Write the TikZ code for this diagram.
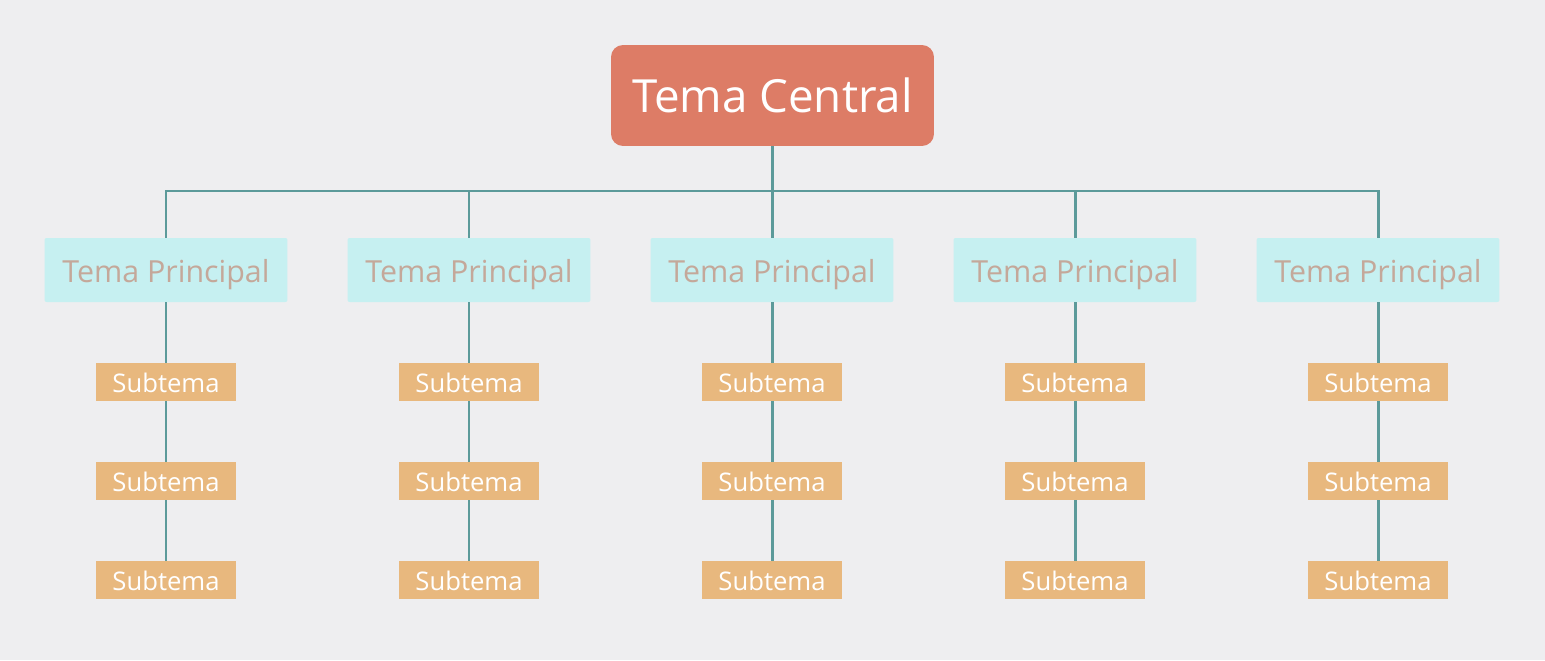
\documentclass[tikz,border=0pt]{standalone}
\usepackage{fontspec}
\setmainfont{Open Sans}
\usepackage{tikz}
\usetikzlibrary{calc}
\definecolor{bgcol}{HTML}{EEEEF0}
\definecolor{centralcol}{HTML}{DD7C66}
\definecolor{principalcol}{HTML}{C6F0F1}
\definecolor{principaltext}{HTML}{C4A89A}
\definecolor{subcol}{HTML}{E8B87E}
\definecolor{linkcol}{HTML}{5C9A9A}
\tikzset{
    central/.style={fill=centralcol,text=white,rounded corners=0.24cm,inner sep=0pt,
        minimum width=6.46cm,minimum height=2.02cm,font=\fontsize{26}{30}\selectfont},
    principal/.style={fill=principalcol,text=principaltext,rounded corners=0.04cm,inner sep=0pt,
        minimum width=4.86cm,minimum height=1.28cm,text height=18.5pt,text depth=4pt,
        font=\fontsize{17.3}{20}\selectfont},
    subtema/.style={fill=subcol,text=white,inner sep=0pt,
        minimum width=2.8cm,minimum height=0.76cm,text height=12pt,text depth=0pt,
        font=\fontsize{14.6}{17}\selectfont},
    link/.style={draw=linkcol,line width=1.7pt}
}
\begin{document}
\begin{tikzpicture}[x=0.02cm,y=-0.02cm]
        \fill[bgcol] (0,0) rectangle (1545,660);
        \useasboundingbox (0,0) rectangle (1545,660);
        %%%
        \coordinate (bus) at (0,191);
        \node[central] (central) at (772.5,95.5) {Tema Central};
        %%%
        \foreach \i/\x in {1/166,2/469,3/772,4/1075,5/1378}{
            \node[principal] (p\i) at (\x,270) {Tema Principal};
            \node[subtema] (s\i a) at (\x,382) {Subtema};
            \node[subtema] (s\i b) at (\x,481) {Subtema};
            \node[subtema] (s\i c) at (\x,580) {Subtema};
            \draw[link] (p\i.north) -- (p\i.north |- bus);
            \draw[link] (p\i.south) -- (s\i a.north);
            \draw[link] (s\i a.south) -- (s\i b.north);
            \draw[link] (s\i b.south) -- (s\i c.north);
        }
        %%%
        \draw[link] (central.south) -- (central.south |- bus);
        \draw[link,line cap=rect] (p1.north |- bus) -- (p5.north |- bus);
        %%%
    \end{tikzpicture}
\end{document}
